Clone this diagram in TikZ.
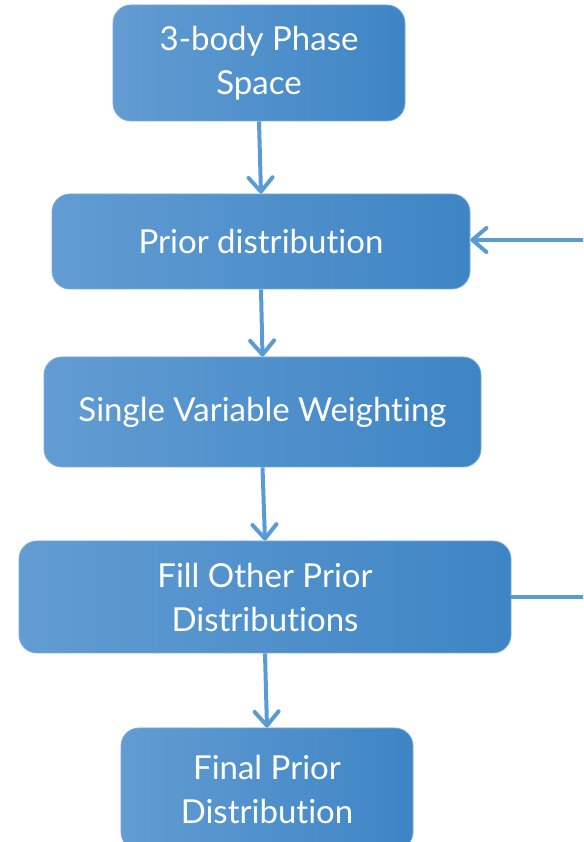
\documentclass[tikz,border=0pt]{standalone}
\usepackage{fontspec}
\setmainfont{Lato}[Ligatures={NoCommon}]
\usetikzlibrary{arrows.meta}
\definecolor{lineblue}{RGB}{91,155,213}
\definecolor{boxleft}{RGB}{98,156,210}
\definecolor{boxmid}{RGB}{74,152,222}
\definecolor{boxright}{RGB}{62,133,197}
\definecolor{boxedge}{RGB}{120,170,220}
\tikzset{
  flowbox/.style={rounded corners=18pt, left color=boxleft, middle color=boxmid, right color=boxright,
    draw=boxedge, line width=0.8pt, text=white, align=center, font=\fontsize{33}{44}\selectfont,
    inner sep=0pt},
  flowarrow/.style={draw=lineblue, line width=4pt,
    -{Straight Barb[length=14pt,width=24pt,line cap=round,line join=round]}},
  flowline/.style={draw=lineblue, line width=4pt}
}
\begin{document}
\begin{tikzpicture}[x=1pt,y=1pt]
\useasboundingbox (0,0) rectangle (583,842);
\clip (0,0) rectangle (583,842);
\node[flowbox, minimum width=292pt, minimum height=116pt] (b1) at (259,779) {3-body Phase\\Space};
\node[flowbox, minimum width=418pt, minimum height=95pt] (b2) at (261,600.5) {Prior distribution};
\node[flowbox, minimum width=437pt, minimum height=110pt] (b3) at (262.5,430) {Single Variable Weighting};
\node[flowbox, minimum width=492pt, minimum height=112pt] (b4) at (265,245) {Fill Other Prior\\Distributions};
\node[flowbox, minimum width=292pt, minimum height=122pt] (b5) at (267,53) {Final Prior\\Distribution};
\coordinate (r4) at (600,245);
\coordinate (r2) at (600,602);
\draw[flowarrow] (b1.south) -- (b2.north);
\draw[flowarrow] (b2.south) -- (b3.north);
\draw[flowarrow] (b3.south) -- (b4.north);
\draw[flowarrow] (b4.south) -- (b5.north);
\draw[flowline] (b4.east) -- (r4);
\draw[flowarrow] (r4) -- (r2) -- (b2.east |- r2);
\end{tikzpicture}
\end{document}
